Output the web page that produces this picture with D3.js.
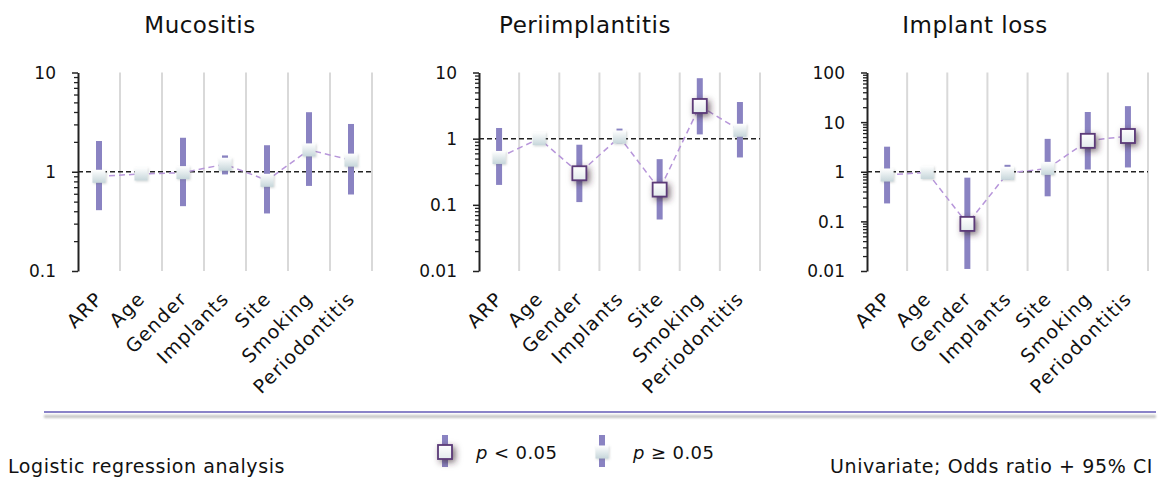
<!DOCTYPE html>
<html>
<head>
<meta charset="utf-8">
<script src="https://cdn.jsdelivr.net/npm/d3@7"></script>
<style>
  body { margin: 0; background: #fff; }
  svg { display: block; font-family: "DejaVu Sans", sans-serif; }
</style>
</head>
<body>
<div id="chart"></div>
<script>
const W = 1158, H = 477;

// categories shared by all three panels
const categories = ["ARP", "Age", "Gender", "Implants", "Site", "Smoking", "Periodontitis"];

// Mucositis: odds ratio, lower / upper 95% CI, significance
const mucositisOR  = [0.90, 0.95, 0.98, 1.19, 0.82, 1.66, 1.31];
const mucositisLo  = [0.41, 0.92, 0.45, 0.94, 0.38, 0.72, 0.59];
const mucositisHi  = [2.04, 0.98, 2.20, 1.46, 1.85, 3.98, 3.03];
const mucositisSig = [false, false, false, false, false, false, false];

// Periimplantitis
const periOR  = [0.52, 1.00, 0.30, 1.06, 0.17, 3.12, 1.34];
const periLo  = [0.20, 0.96, 0.11, 0.85, 0.06, 1.16, 0.52];
const periHi  = [1.45, 1.04, 0.81, 1.42, 0.49, 8.20, 3.58];
const periSig = [false, false, true, false, true, true, false];

// Implant loss
const lossOR  = [0.86, 0.97, 0.089, 0.93, 1.17, 4.2, 5.25];
const lossLo  = [0.23, 0.94, 0.011, 0.70, 0.32, 1.11, 1.22];
const lossHi  = [3.2, 1.00, 0.76, 1.38, 4.6, 16, 21];
const lossSig = [false, false, true, false, false, true, true];

const panels = [
  { title: "Mucositis", titleX: 200, x0: 78, x1: 372, domain: [0.1, 10],
    ticks: [0.1, 1, 10], labels: ["0.1", "1", "10"],
    or: mucositisOR, lo: mucositisLo, hi: mucositisHi, sig: mucositisSig },
  { title: "Periimplantitis", titleX: 585, x0: 479, x1: 760, domain: [0.01, 10],
    ticks: [0.01, 0.1, 1, 10], labels: ["0.01", "0.1", "1", "10"],
    or: periOR, lo: periLo, hi: periHi, sig: periSig },
  { title: "Implant loss", titleX: 975, x0: 867, x1: 1148, domain: [0.01, 100],
    ticks: [0.01, 0.1, 1, 10, 100], labels: ["0.01", "0.1", "1", "10", "100"],
    or: lossOR, lo: lossLo, hi: lossHi, sig: lossSig }
];

const plotTop = 72.5, plotBottom = 271;
const barColor = "#8a83c2";
const lineColor = "#b796da";

const svg = d3.select("#chart").append("svg")
  .attr("width", W).attr("height", H);

const defs = svg.append("defs");

const gNs = defs.append("linearGradient").attr("id", "gradNs")
  .attr("x1", 0).attr("y1", 0).attr("x2", 0).attr("y2", 1);
gNs.append("stop").attr("offset", "0%").attr("stop-color", "#ffffff");
gNs.append("stop").attr("offset", "100%").attr("stop-color", "#c6d6da");

const gSig = defs.append("linearGradient").attr("id", "gradSig")
  .attr("x1", 0).attr("y1", 0).attr("x2", 0).attr("y2", 1);
gSig.append("stop").attr("offset", "0%").attr("stop-color", "#ffffff");
gSig.append("stop").attr("offset", "100%").attr("stop-color", "#e2eaec");

defs.append("filter").attr("id", "shadowSig")
  .attr("x", "-80%").attr("y", "-80%").attr("width", "260%").attr("height", "260%")
  .append("feDropShadow").attr("dx", 2.5).attr("dy", 2.5).attr("stdDeviation", 3)
  .attr("flood-color", "#3a2030").attr("flood-opacity", 0.65);

defs.append("filter").attr("id", "shadowNs")
  .attr("x", "-60%").attr("y", "-60%").attr("width", "240%").attr("height", "240%")
  .append("feDropShadow").attr("dx", 1).attr("dy", 1).attr("stdDeviation", 1.2)
  .attr("flood-color", "#607070").attr("flood-opacity", 0.3);

defs.append("filter").attr("id", "blurLine")
  .attr("x", "-5%").attr("y", "-200%").attr("width", "110%").attr("height", "500%")
  .append("feGaussianBlur").attr("stdDeviation", 1.2);

function drawMarker(g, cx, cy, sig) {
  const s = sig ? 14 : 13;
  g.append("rect")
    .attr("x", cx - s / 2).attr("y", cy - s / 2)
    .attr("width", s).attr("height", s)
    .attr("fill", sig ? "url(#gradSig)" : "url(#gradNs)")
    .attr("stroke", sig ? "#5b3a78" : "none")
    .attr("stroke-width", sig ? 1.8 : 0)
    .attr("filter", sig ? "url(#shadowSig)" : "url(#shadowNs)");
}

panels.forEach(p => {
  const g = svg.append("g");

  const x = d3.scaleBand().domain(categories).range([p.x0, p.x1]);
  const y = d3.scaleLog().domain(p.domain).range([plotBottom, plotTop]);

  // title
  g.append("text")
    .attr("x", p.titleX).attr("y", 33)
    .attr("text-anchor", "middle")
    .attr("font-size", 23)
    .attr("letter-spacing", 0.5)
    .attr("fill", "#111")
    .text(p.title);

  // vertical grid lines at band edges
  g.selectAll("line.grid")
    .data(categories)
    .join("line")
    .attr("class", "grid")
    .attr("x1", d => x(d) + x.bandwidth())
    .attr("x2", d => x(d) + x.bandwidth())
    .attr("y1", plotTop).attr("y2", plotBottom)
    .attr("stroke", "#d9d9d9").attr("stroke-width", 2);

  // minor ticks
  const minor = [];
  const [lo, hi] = p.domain;
  for (let dec = lo; dec < hi; dec *= 10) {
    for (let k = 2; k <= 9; k++) minor.push(dec * k);
  }
  g.append("g")
    .attr("transform", `translate(${p.x0},0)`)
    .call(d3.axisLeft(y).tickValues(minor).tickSize(4).tickFormat(""))
    .call(a => a.select(".domain").remove())
    .call(a => a.selectAll("line").attr("stroke", "#222").attr("stroke-width", 1.3));

  // major ticks + axis line
  g.append("g")
    .attr("transform", `translate(${p.x0},0)`)
    .call(d3.axisLeft(y).tickValues(p.ticks).tickSize(6).tickSizeOuter(0)
      .tickFormat((d, i) => p.labels[i]))
    .call(a => a.select(".domain").attr("stroke", "#222").attr("stroke-width", 2))
    .call(a => a.selectAll("line").attr("stroke", "#222").attr("stroke-width", 1.5))
    .call(a => a.selectAll("text")
      .attr("x", -22).attr("dy", "0.35em")
      .attr("font-size", 17).attr("fill", "#111")
      .attr("font-family", "DejaVu Sans, sans-serif"));

  // reference line at OR = 1
  g.append("line")
    .attr("x1", p.x0).attr("x2", p.x1)
    .attr("y1", y(1)).attr("y2", y(1))
    .attr("stroke", "#222").attr("stroke-width", 1.5)
    .attr("stroke-dasharray", "5,3");

  const cx = d => x(d) + x.bandwidth() / 2;

  // CI bars
  g.selectAll("rect.ci")
    .data(categories)
    .join("rect")
    .attr("class", "ci")
    .attr("x", d => cx(d) - 3)
    .attr("width", 6)
    .attr("y", (d, i) => y(p.hi[i]))
    .attr("height", (d, i) => y(p.lo[i]) - y(p.hi[i]))
    .attr("fill", barColor);

  // connecting dashed line
  const line = d3.line()
    .x(d => cx(d))
    .y(d => y(p.or[categories.indexOf(d)]));
  g.append("path")
    .datum(categories)
    .attr("d", line)
    .attr("fill", "none")
    .attr("stroke", lineColor)
    .attr("stroke-width", 1.5)
    .attr("stroke-dasharray", "6,4");

  // markers
  categories.forEach((d, i) => drawMarker(g, cx(d), y(p.or[i]), p.sig[i]));

  // rotated category labels
  g.selectAll("text.cat")
    .data(categories)
    .join("text")
    .attr("class", "cat")
    .attr("transform", d => `translate(${cx(d) + 5},${300}) rotate(-45)`)
    .attr("text-anchor", "end")
    .attr("font-size", 19)
    .attr("letter-spacing", 1.2)
    .attr("fill", "#111")
    .text(d => d);
});

// separator line with soft grey shadow
svg.append("rect")
  .attr("x", 44).attr("y", 415).attr("width", 1112).attr("height", 3)
  .attr("fill", "#c4c4c4")
  .attr("filter", "url(#blurLine)");
svg.append("line")
  .attr("x1", 44).attr("x2", 1156).attr("y1", 412).attr("y2", 412)
  .attr("stroke", "#8a83c8").attr("stroke-width", 2);

// legend
const legendItems = [
  { x: 445, sig: true, sym: "<" },
  { x: 602, sig: false, sym: "≥" }
];
legendItems.forEach(it => {
  svg.append("rect")
    .attr("x", it.x - 3).attr("y", 435)
    .attr("width", 6).attr("height", 32)
    .attr("fill", barColor);
  drawMarker(svg, it.x, 452, it.sig);
  const t = svg.append("text")
    .attr("x", it.x + 31).attr("y", 459)
    .attr("font-size", 18).attr("letter-spacing", 0.4).attr("fill", "#111");
  t.append("tspan").attr("font-style", "italic").text("p");
  t.append("tspan").text(` ${it.sym} 0.05`);
});

// footer notes
svg.append("text")
  .attr("x", 8).attr("y", 473)
  .attr("font-size", 19).attr("letter-spacing", 0.6).attr("fill", "#111")
  .text("Logistic regression analysis");
svg.append("text")
  .attr("x", 1153).attr("y", 473)
  .attr("text-anchor", "end")
  .attr("font-size", 19).attr("letter-spacing", 0.6).attr("fill", "#111")
  .text("Univariate; Odds ratio + 95% CI");
</script>
</body>
</html>
